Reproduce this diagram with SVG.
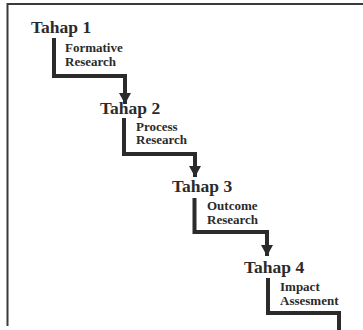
<svg xmlns="http://www.w3.org/2000/svg" width="363" height="330" viewBox="0 0 363 330">
<style>
.t{font-family:"Liberation Serif","Times New Roman",serif;font-weight:bold;fill:#2b2b2b}
.h{font-size:17.5px}
.l{font-size:13px}
.c{fill:none;stroke:#2b2b2b;stroke-width:4;stroke-linejoin:miter}
</style>
<defs>
<marker id="arr" markerUnits="userSpaceOnUse" markerWidth="14" markerHeight="12" refX="11" refY="6" orient="auto">
<path d="M0,0 L11,6 L0,12 Z" fill="#2b2b2b"/>
</marker>
</defs>
<rect width="363" height="330" fill="#fff"/>
<path d="M7.5,326 V4 H363" fill="none" stroke="#3a3a3a" stroke-width="2"/>
<g id="connectors">
<path class="c" d="M54,38 V76 H125 V104" marker-end="url(#arr)"/>
<path class="c" d="M124,118 V154 H195 V177" marker-end="url(#arr)"/>
<path class="c" d="M194.5,198 V232 H267 V256" marker-end="url(#arr)"/>
<path class="c" d="M268,278 V313 H339 V330"/>
</g>
<g id="tahap1">
<text class="t h" x="31" y="33">Tahap 1</text>
<text class="t l" x="65" y="52">Formative</text>
<text class="t l" x="65" y="65.5">Research</text>
</g>
<g id="tahap2">
<text class="t h" x="100" y="114">Tahap 2</text>
<text class="t l" x="136" y="130.5">Process</text>
<text class="t l" x="136" y="144">Research</text>
</g>
<g id="tahap3">
<text class="t h" x="172" y="192">Tahap 3</text>
<text class="t l" x="207" y="210">Outcome</text>
<text class="t l" x="207" y="224">Research</text>
</g>
<g id="tahap4">
<text class="t h" x="244" y="273">Tahap 4</text>
<text class="t l" x="280" y="291">Impact</text>
<text class="t l" x="280" y="304.5">Assesment</text>
</g>
</svg>
